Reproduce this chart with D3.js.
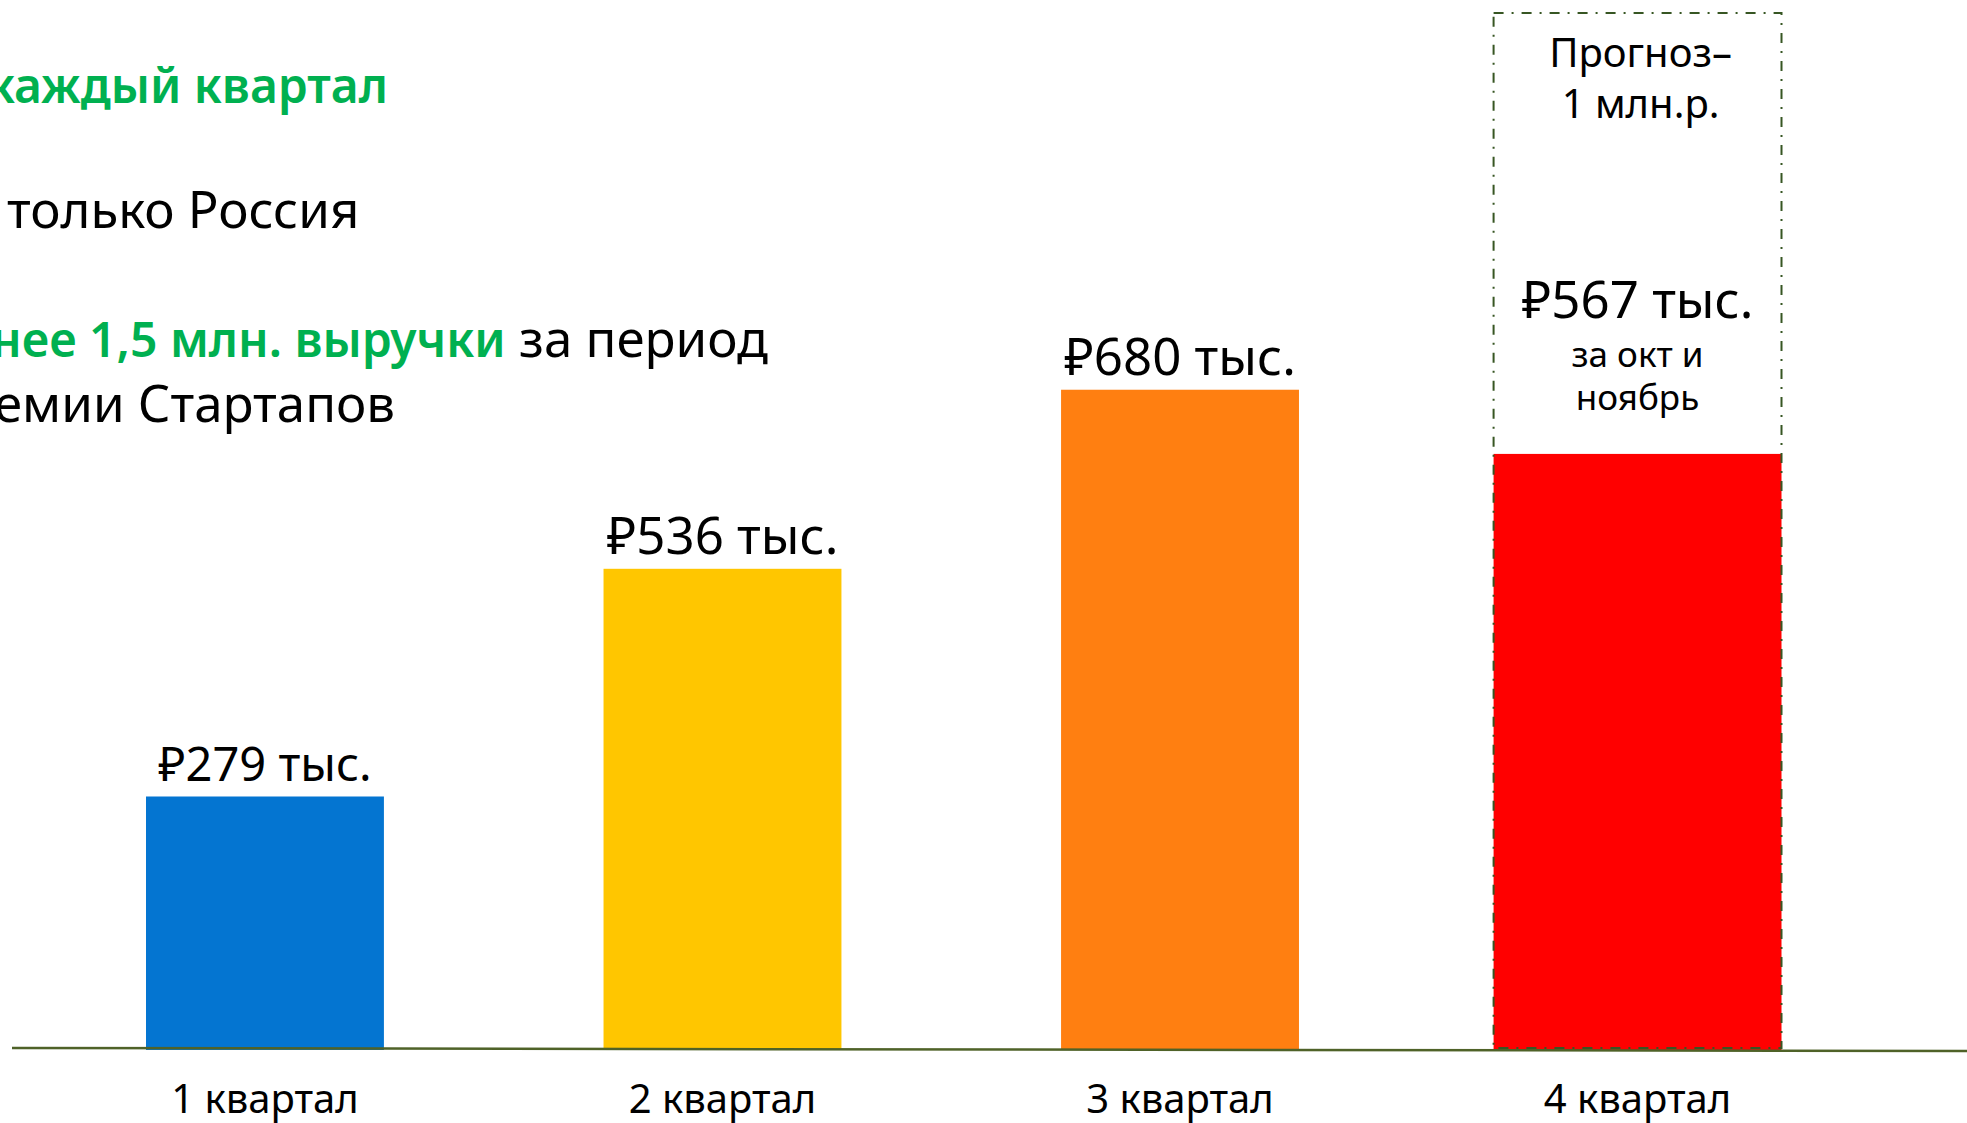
<!DOCTYPE html>
<html>
<head>
<meta charset="utf-8">
<script src="https://cdn.jsdelivr.net/npm/d3@7"></script>
<style>
  html, body { margin: 0; padding: 0; background: #fff; overflow: hidden; }
  text { font-family: "Noto Sans", "Open Sans", sans-serif; }
</style>
</head>
<body>
<div id="content"><div id="chart"></div></div>
<script>
// quarters and revenue, thousand roubles (from the bar labels)
var quarters = ['1 квартал', '2 квартал', '3 квартал', '4 квартал'];
var revenue = [279, 536, 680, 567];
// bar heights as drawn on the slide, same units as the forecast box (1000)
var barLevel = [243, 463, 636, 574];
var forecast = 1000;
var forecastText = ['Прогноз–', '1 млн.р.'];
var q4Note = ['за окт и', 'ноябрь'];
var barColors = ['#0475d1', '#ffc600', '#ff7f11', '#ff0000'];

// header lines, cut by the left edge of the slide
var header = [
  [{t: 'каждый квартал', green: true}],
  [{t: 'только Россия'}],
  [{t: 'нее 1,5 млн. выручки', green: true}, {t: ' за период'}],
  [{t: 'емии Стартапов'}]
];

(function () {

var width = 1967,
    height = 1123;

var svg = d3.select('#chart')
            .append('svg')
            .attr('width', width)
            .attr('height', height);

var green = '#00b050',
    lineColor = '#4f6228';

// header text
var hx = [-13, 7, -9, -6],
    hy = [103, 228, 357, 422];

header.forEach(function (line, i) {
  var t = svg.append('text')
      .attr('x', hx[i])
      .attr('y', hy[i])
      .attr('font-size', 51);
  line.forEach(function (s) {
    t.append('tspan')
      .attr('fill', s.green ? green : '#000')
      .attr('font-weight', s.green ? 600 : 400)
      .attr('font-size', s.green ? 48 : 51)
      .text(s.t);
  });
});

var x = d3.scaleBand()
          .domain(quarters)
          .range([146, 1756.5])
          .paddingInner(0.48);

var y = d3.scaleLinear()
          .domain([0, forecast])
          .range([1048, 13]);

var data = quarters.map(function (q, i) {
  return {q: q, value: revenue[i], level: barLevel[i], color: barColors[i], last: i === quarters.length - 1};
});

var wide = 25; // forecast column is a bit wider

// bars
svg.append('g')
   .selectAll('rect')
   .data(data)
   .enter().append('rect')
   .attr('x', function (d) { return x(d.q) - (d.last ? wide : 0); })
   .attr('width', function (d) { return x.bandwidth() + (d.last ? 2 * wide : 0); })
   .attr('y', function (d) { return y(d.level); })
   .attr('height', function (d) { return y(0) - y(d.level) + 2; })
   .attr('fill', function (d) { return d.color; });

// forecast box
var last = data[data.length - 1];
svg.append('rect')
   .attr('x', x(last.q) - wide)
   .attr('y', y(forecast))
   .attr('width', x.bandwidth() + 2 * wide)
   .attr('height', y(0) - y(forecast))
   .attr('fill', 'none')
   .attr('stroke', '#375623')
   .attr('stroke-width', 2)
   .attr('stroke-dasharray', '10,8,2,8');

svg.append('g')
   .selectAll('text')
   .data(forecastText)
   .enter().append('text')
   .attr('x', x(last.q) + x.bandwidth() / 2 + 3)
   .attr('y', function (d, i) { return y(forecast) + 54 + i * 51; })
   .attr('text-anchor', 'middle')
   .attr('font-size', 40)
   .text(function (d) { return d; });

// value labels
svg.append('g')
   .selectAll('text')
   .data(data)
   .enter().append('text')
   .attr('x', function (d) { return x(d.q) + x.bandwidth() / 2; })
   .attr('y', function (d) { return d.last ? y(d.level) - 136 : y(d.level) - 15; })
   .attr('text-anchor', 'middle')
   .attr('font-size', function (d, i) { return i === 0 ? 47 : 51; })
   .text(function (d) { return '₽' + d.value + ' тыс.'; });

svg.append('g')
   .selectAll('text')
   .data(q4Note)
   .enter().append('text')
   .attr('x', x(last.q) + x.bandwidth() / 2)
   .attr('y', function (d, i) { return y(last.level) - 87 + i * 43; })
   .attr('text-anchor', 'middle')
   .attr('font-size', 35)
   .text(function (d) { return d; });

// baseline
svg.append('line')
   .attr('x1', 12)
   .attr('x2', width)
   .attr('y1', y(0))
   .attr('y2', y(0) + 3)
   .attr('stroke', lineColor)
   .attr('stroke-width', 2.5);

// category labels
var xAxis = d3.axisBottom(x).tickSize(0).tickPadding(0);
var ax = svg.append('g')
   .attr('transform', 'translate(0,' + 1113 + ')')
   .call(xAxis);
ax.select('.domain').remove();
ax.selectAll('text')
  .attr('dy', 0)
  .attr('font-size', 40)
  .attr('font-family', '"Noto Sans", sans-serif')
  .attr('fill', '#000');

})();
</script>
</body>
</html>
